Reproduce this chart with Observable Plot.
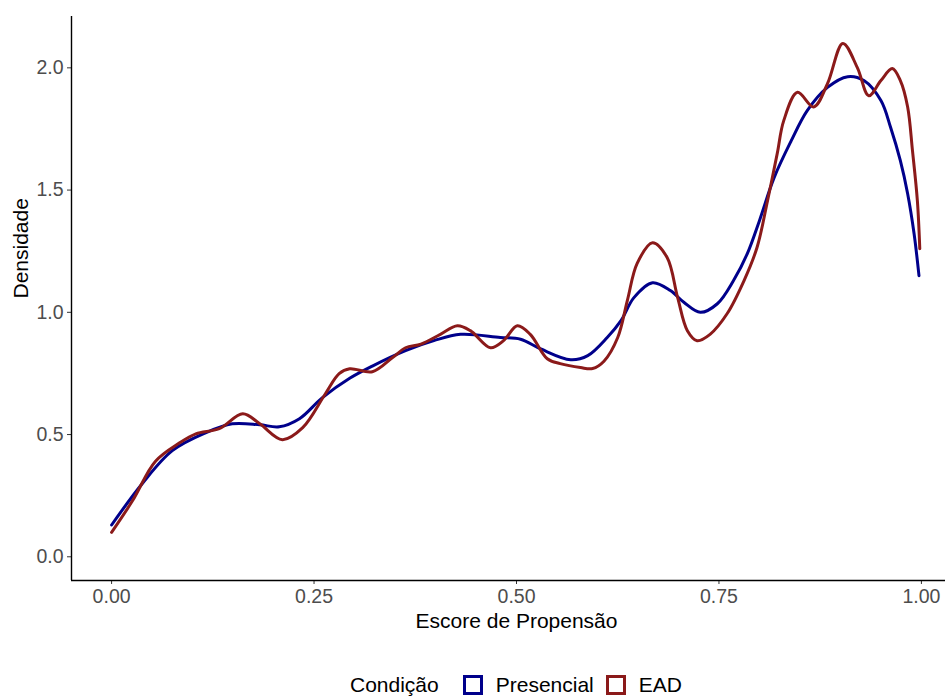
<!DOCTYPE html>
<html>
<head>
<meta charset="utf-8">
<script src="https://cdn.jsdelivr.net/npm/d3@7"></script>
<script src="https://cdn.jsdelivr.net/npm/@observablehq/plot@0.6"></script>
<style>
  html, body { margin: 0; padding: 0; background: white; overflow: hidden; }
  body { width: 945px; height: 697px; font-family: "Liberation Sans", Arial, sans-serif; }
  #chart svg { max-width: none !important; display: block; }
  #legend { width: 890px; padding-left: 71px; height: 24px; margin-top: 28px; display: flex; justify-content: center; align-items: center; font-size: 21px; color: #000; }
  #legend .key { width: 20px; height: 20px; box-sizing: border-box; border: 3px solid; display: inline-block; }
</style>
</head>
<body>
<div id="chart"></div>
<div id="legend"></div>
<script>
const condicoes = ["Presencial", "EAD"];
const cores = ["#00008b", "#8b1a1a"];
const xTicks = [0, 0.25, 0.5, 0.75, 1];
const yTicks = [0, 0.5, 1, 1.5, 2];

const xPresencial = [0.0, 0.038, 0.075, 0.116, 0.149, 0.183, 0.207, 0.232, 0.26, 0.294, 0.322, 0.363, 0.398, 0.431, 0.48, 0.505, 0.53, 0.567, 0.588, 0.612, 0.629, 0.645, 0.668, 0.69, 0.707, 0.727, 0.748, 0.768, 0.785, 0.80, 0.818, 0.839, 0.859, 0.884, 0.909, 0.929, 0.950, 0.962, 0.974, 0.983, 0.991, 0.997];
const yPresencial = [0.13, 0.30, 0.434, 0.507, 0.544, 0.54, 0.532, 0.565, 0.65, 0.73, 0.78, 0.843, 0.884, 0.91, 0.897, 0.89, 0.85, 0.806, 0.823, 0.897, 0.966, 1.06, 1.121, 1.089, 1.04, 1.0, 1.035, 1.13, 1.24, 1.375, 1.55, 1.70, 1.825, 1.92, 1.964, 1.948, 1.866, 1.756, 1.62, 1.485, 1.32, 1.15];

const xEAD = [0.0, 0.026, 0.054, 0.084, 0.104, 0.133, 0.162, 0.183, 0.211, 0.236, 0.264, 0.281, 0.294, 0.322, 0.347, 0.363, 0.382, 0.406, 0.427, 0.443, 0.468, 0.484, 0.501, 0.517, 0.538, 0.554, 0.579, 0.594, 0.608, 0.625, 0.637, 0.649, 0.668, 0.686, 0.699, 0.711, 0.723, 0.739, 0.76, 0.781, 0.797, 0.81, 0.822, 0.83, 0.847, 0.867, 0.884, 0.903, 0.921, 0.935, 0.95, 0.964, 0.974, 0.983, 0.989, 0.995, 0.998];
const yEAD = [0.10, 0.23, 0.39, 0.466, 0.503, 0.524, 0.585, 0.544, 0.479, 0.528, 0.667, 0.749, 0.769, 0.757, 0.815, 0.855, 0.87, 0.91, 0.945, 0.925, 0.855, 0.884, 0.945, 0.91, 0.81, 0.79, 0.774, 0.77, 0.80, 0.897, 1.05, 1.2, 1.285, 1.224, 1.06, 0.925, 0.884, 0.91, 0.994, 1.13, 1.265, 1.457, 1.65, 1.784, 1.90, 1.84, 1.935, 2.10, 2.00, 1.886, 1.948, 1.997, 1.948, 1.84, 1.66, 1.457, 1.26];

const series = [[xPresencial, yPresencial], [xEAD, yEAD]];
const data = condicoes.flatMap((c, i) => series[i][0].map((x, j) => ({cond: c, x, y: series[i][1][j]})));

const xDom = [-0.0495, 1.0495];
const yDom = [-0.097, 2.21];

const chart = Plot.plot({
  width: 961,
  height: 645,
  marginLeft: 71,
  marginRight: 0,
  marginTop: 16,
  marginBottom: 65,
  x: {domain: xDom},
  y: {domain: yDom},
  color: {domain: condicoes, range: cores},
  style: {fontFamily: "'Liberation Sans', Arial, sans-serif", background: "white", overflow: "visible", maxWidth: "none"},
  marks: [
    Plot.axisX({ticks: xTicks, tickFormat: d3.format(".2f"), tickSize: 4, tickPadding: 5, fontSize: 19.5, stroke: "#333333", fill: "#4d4d4d", label: null}),
    Plot.axisY({ticks: yTicks, tickFormat: d3.format(".1f"), tickSize: 4, tickPadding: 4, fontSize: 19.5, stroke: "#333333", fill: "#4d4d4d", label: null}),
    Plot.line(data, {x: "x", y: "y", z: "cond", stroke: "cond", strokeWidth: 3, curve: "catmull-rom"}),
    Plot.ruleX([xDom[0]], {stroke: "black", strokeWidth: 1.4}),
    Plot.ruleY([yDom[0]], {stroke: "black", strokeWidth: 1.4}),
    Plot.text(["Escore de Propensão"], {frameAnchor: "bottom", lineAnchor: "middle", dy: 41, fontSize: 21, fill: "black"}),
    Plot.text(["Densidade"], {frameAnchor: "left", lineAnchor: "middle", dx: -50, rotate: -90, fontSize: 21, fill: "black"})
  ]
});
document.getElementById("chart").appendChild(chart);

const legend = document.getElementById("legend");
const title = document.createElement("span");
title.textContent = "Condição";
title.style.marginRight = "24px";
legend.appendChild(title);
condicoes.forEach((c, i) => {
  const key = document.createElement("span");
  key.className = "key";
  key.style.borderColor = cores[i];
  key.style.marginRight = "13px";
  legend.appendChild(key);
  const lab = document.createElement("span");
  lab.textContent = c;
  if (i < condicoes.length - 1) lab.style.marginRight = "12px";
  legend.appendChild(lab);
});
</script>
</body>
</html>
